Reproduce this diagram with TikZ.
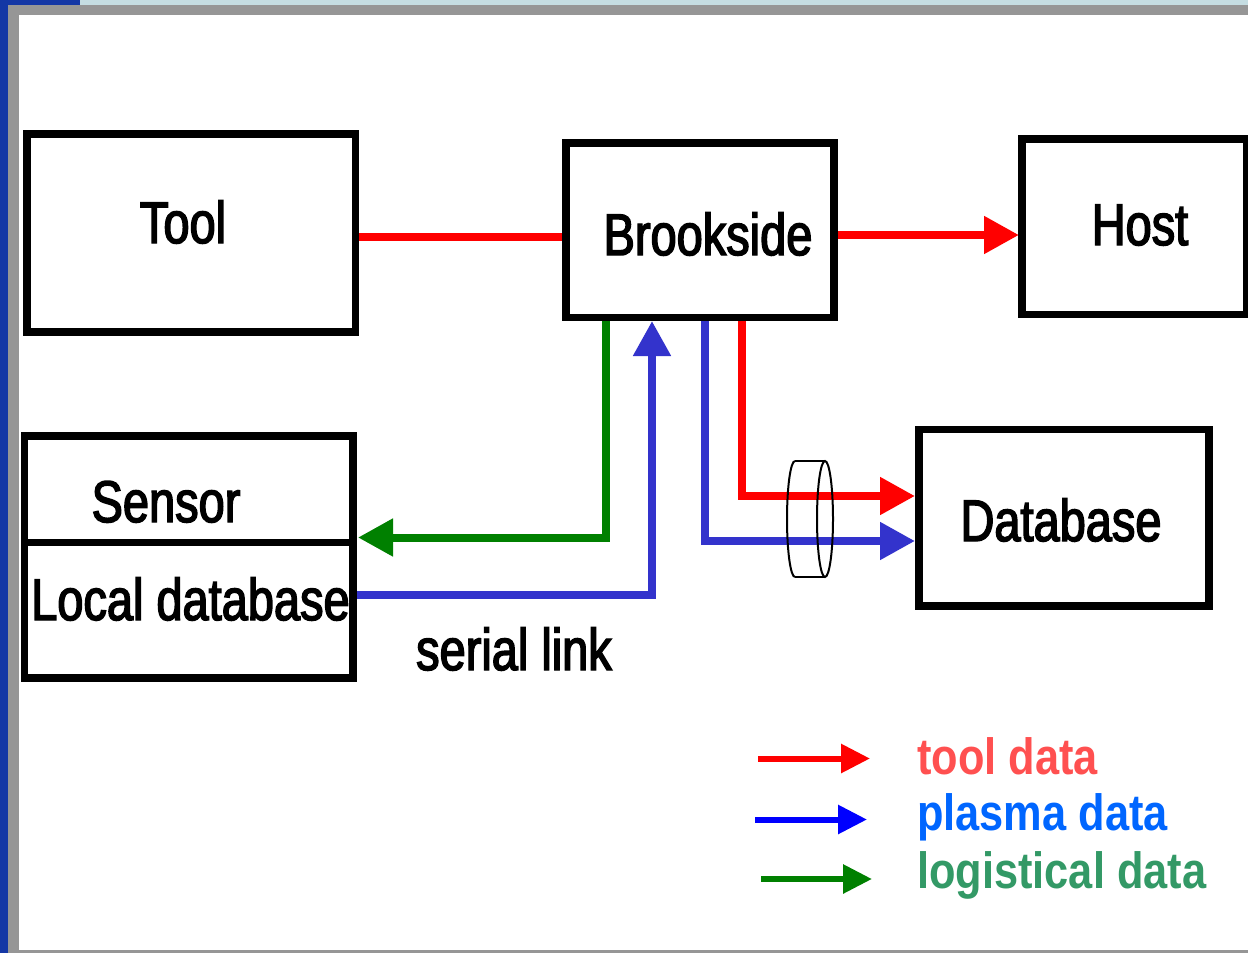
\documentclass[tikz,border=0pt]{standalone}
\usepackage{fontspec}
\usetikzlibrary{arrows.meta,calc}
\newfontfamily\labfont[FakeStretch=0.80,FakeBold=2.5]{Liberation Sans}
\newfontfamily\legfont[FakeStretch=0.85]{Liberation Sans}
\definecolor{slideblue}{RGB}{20,55,165}
\definecolor{slidelight}{RGB}{197,221,226}
\definecolor{bordergray}{RGB}{150,150,150}
\definecolor{flowred}{RGB}{255,0,0}
\definecolor{flowblue}{RGB}{51,51,204}
\definecolor{flowgreen}{RGB}{0,128,0}
\definecolor{legred}{RGB}{255,80,80}
\definecolor{legblue}{RGB}{0,102,255}
\definecolor{leggreen}{RGB}{51,153,102}
\pgfdeclarelayer{back}
\pgfdeclarelayer{bg}
\pgfsetlayers{back,bg,main}
\tikzset{
  box/.style={draw=black, line width=7.5pt, rectangle, inner sep=0pt, outer sep=0pt},
  lbl/.style={inner sep=0pt, anchor=base, font=\labfont\fontsize{58.7pt}{60pt}\selectfont},
  legtxt/.style={inner sep=0pt, anchor=base west, font=\legfont\bfseries\fontsize{51pt}{53pt}\selectfont},
  flow/.style={line width=8pt},
  bigtip/.style={-{Triangle[length=35pt,width=36pt]}},
  legarrow/.style={line width=6pt, -{Triangle[length=29pt,width=28pt]}},
}
\begin{document}
\begin{tikzpicture}[x=1pt,y=-1pt]
\useasboundingbox (0,0) rectangle (1248,953);
% slide background
\begin{pgfonlayer}{back}
\fill[slidelight] (0,0) rectangle (1248,5);
\fill[slideblue] (0,0) rectangle (80,5);
\fill[slideblue] (0,0) rectangle (8,953);
\fill[bordergray] (8,5) rectangle (1248,953);
\fill[white] (19,15) rectangle (1248,950);
\end{pgfonlayer}

% boxes
\node[box, minimum width=328.5pt, minimum height=198pt] (tool) at (191.25,233) {};
\node[box, minimum width=268pt, minimum height=174.5pt] (brook) at (700,230.25) {};
\node[box, minimum width=224.5pt, minimum height=175.5pt] (host) at (1134.25,226.75) {};
\node[box, minimum width=328.5pt, minimum height=242pt] (sensor) at (188.75,557) {};
\node[box, minimum width=290pt, minimum height=176.5pt] (db) at (1064,517.75) {};
\coordinate (div) at (0,542.5);
\draw[line width=7.5pt] (sensor.west |- div) -- (sensor.east |- div);

% labels
\node[lbl] (tooltxt) at (183,243) {Tool};
\node[lbl] (brooktxt) at (708,255) {Brookside};
\node[lbl] (hosttxt) at (1140,245) {Host};
\node[lbl] (sensortxt) at (166,522) {Sensor};
\node[lbl] (localtxt) at (190.5,620) {Local database};
\node[lbl] (dbtxt) at (1061,541) {Database};
\node[lbl] (serialtxt) at (514,670) {serial link};

% connectors
\begin{pgfonlayer}{bg}
\draw[flow, flowred] ($(tool.east)+(0,4)$) -- ($(brook.west)+(0,6.75)$);
\draw[flow, flowred, bigtip, shorten >=3pt] ($(brook.east)+(0,4.75)$) -- ($(host.west)+(0,8.25)$);
\coordinate (gtop) at ($(brook.south west)+(40,0)$);
\coordinate (gcorner) at (606,537.5);
\draw[flow, flowgreen, bigtip, shorten >=5pt] (gtop) -- (gcorner) -- (gcorner -| sensor.east);
\coordinate (bcorner) at (652,595);
\draw[flow, flowblue, bigtip, shorten >=3.5pt] (sensor.east |- bcorner) -- (bcorner) -- (bcorner |- brook.south);
\coordinate (rtop) at ($(brook.south west)+(176,0)$);
\coordinate (rcorner) at (742,496);
\draw[flow, flowred, bigtip, shorten >=4pt] (rtop) -- (rcorner) -- (rcorner -| db.west);
\coordinate (btop) at ($(brook.south west)+(139,0)$);
\coordinate (bcorner2) at (705,541);
\draw[flow, flowblue, bigtip, shorten >=4pt] (btop) -- (bcorner2) -- (bcorner2 -| db.west);
\end{pgfonlayer}

% cylinder on the link
\draw[line width=2pt] (795,461) -- (825,461) (795,577) -- (825,577);
\draw[line width=2pt] (825,519) ellipse [x radius=8pt, y radius=58pt];
\draw[line width=2pt] (795,461) arc[start angle=90, end angle=270, x radius=8pt, y radius=58pt];

% legend
\coordinate (l1a) at (758,758.5); \coordinate (l1b) at (870,758.5);
\coordinate (l2a) at (755,819.5); \coordinate (l2b) at (867,819.5);
\coordinate (l3a) at (761,879); \coordinate (l3b) at (872,879);
\draw[legarrow, flowred] (l1a) -- (l1b);
\draw[legarrow, blue] (l2a) -- (l2b);
\draw[legarrow, flowgreen] (l3a) -- (l3b);
\node[legtxt, text=legred] (leg1) at (917,774) {tool data};
\node[legtxt, text=legblue] (leg2) at (917,830) {plasma data};
\node[legtxt, text=leggreen] (leg3) at (917,888) {logistical data};
\end{tikzpicture}
\end{document}
